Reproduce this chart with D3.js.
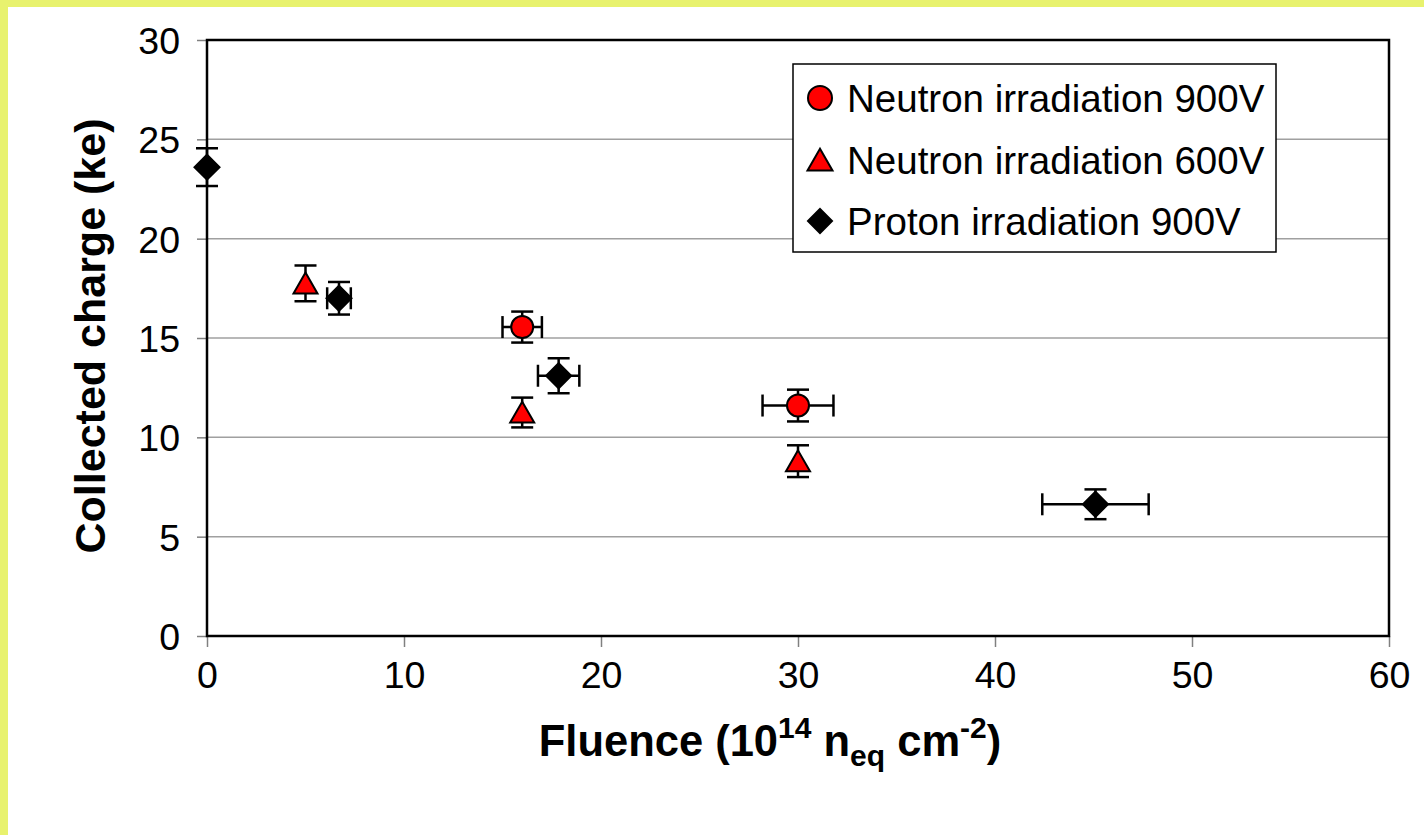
<!DOCTYPE html>
<html>
<head>
<meta charset="UTF-8">
<title>Collected charge vs fluence</title>
<script src="https://cdn.jsdelivr.net/npm/d3@7"></script>
<style>
  body { margin: 0; background: #fff; }
  svg { display: block; font-family: "Liberation Sans", Arial, sans-serif; }
</style>
</head>
<body>
<script>
// data
var xTicks = [0, 10, 20, 30, 40, 50, 60];
var yTicks = [0, 5, 10, 15, 20, 25, 30];

var n900X = [16, 30];
var n900Y = [15.55, 11.6];
var n900Xerr = [1.0, 1.8];
var n900Yerr = [0.78, 0.8];

var n600X = [5, 16, 30];
var n600Y = [17.75, 11.25, 8.8];
var n600Xerr = [0, 0, 0];
var n600Yerr = [0.9, 0.75, 0.8];

var pX = [0, 6.7, 17.85, 45.1];
var pY = [23.6, 17.0, 13.1, 6.63];
var pXerr = [0, 0.6, 1.05, 2.7];
var pYerr = [0.95, 0.82, 0.88, 0.75];

var legendNames = ["Neutron irradiation 900V", "Neutron irradiation 600V", "Proton irradiation 900V"];

var W = 1424, H = 835;
var m = {left: 207, top: 40, right: 1389, bottom: 636};

var svg = d3.select("body").append("svg")
    .attr("width", W).attr("height", H);

// yellow border strips
svg.append("rect").attr("x", 0).attr("y", 0).attr("width", W).attr("height", 7).attr("fill", "#e8f26e");
svg.append("rect").attr("x", 0).attr("y", 0).attr("width", 8).attr("height", H).attr("fill", "#e8f26e");

var x = d3.scaleLinear().domain([0, 60]).range([m.left, m.right]);
var y = d3.scaleLinear().domain([0, 30]).range([m.bottom, m.top]);

// gridlines
svg.append("g").selectAll("line")
    .data(yTicks.filter(function(d){ return d > 0 && d < 30; }))
    .enter().append("line")
    .attr("x1", m.left).attr("x2", m.right)
    .attr("y1", function(d){ return y(d); })
    .attr("y2", function(d){ return y(d); })
    .attr("stroke", "#a0a0a0").attr("stroke-width", 1.5);

// axes
var yAxis = svg.append("g")
    .attr("transform", "translate(" + m.left + ",0)")
    .call(d3.axisLeft(y).tickValues(yTicks).tickSize(10).tickPadding(17).tickFormat(d3.format("d")));
var xAxis = svg.append("g")
    .attr("transform", "translate(0," + m.bottom + ")")
    .call(d3.axisBottom(x).tickValues(xTicks).tickSize(11).tickPadding(30).tickFormat(d3.format("d")));

[xAxis, yAxis].forEach(function(a){
  a.select(".domain").remove();
  a.selectAll(".tick line").attr("stroke", "#808080").attr("stroke-width", 1.5);
  a.selectAll(".tick text").attr("font-size", 37.5).attr("fill", "#000")
    .attr("font-family", "'Liberation Sans', Arial, sans-serif");
});
yAxis.selectAll(".tick text").attr("dy", "0.36em");
xAxis.selectAll(".tick text").attr("dy", "0.3em");

// frame
svg.append("rect")
    .attr("x", m.left).attr("y", m.top)
    .attr("width", m.right - m.left).attr("height", m.bottom - m.top)
    .attr("fill", "none").attr("stroke", "#000").attr("stroke-width", 2.5);

// axis titles
svg.append("text")
    .attr("transform", "translate(105,336) rotate(-90)")
    .attr("text-anchor", "middle")
    .attr("font-size", 43).attr("font-weight", "bold")
    .text("Collected charge (ke)");

var xt = svg.append("text")
    .attr("x", 770).attr("y", 756)
    .attr("text-anchor", "middle")
    .attr("font-size", 43.5).attr("font-weight", "bold");
xt.append("tspan").text("Fluence (10");
xt.append("tspan").attr("dy", -18).attr("font-size", 30).text("14");
xt.append("tspan").attr("dy", 18).text(" n");
xt.append("tspan").attr("dy", 10).attr("font-size", 30).text("eq");
xt.append("tspan").attr("dy", -10).text(" cm");
xt.append("tspan").attr("dy", -18).attr("font-size", 30).text("-2");
xt.append("tspan").attr("dy", 18).text(")");

// marker shapes
function markerPath(kind, s) {
  if (kind === "circle") {
    var p = d3.path(); p.arc(0, 0, s / 2, 0, 2 * Math.PI); return p.toString();
  }
  if (kind === "triangle") {
    return "M0," + (-s * 0.45) + "L" + (s / 2) + "," + (s * 0.42) + "L" + (-s / 2) + "," + (s * 0.42) + "Z";
  }
  return "M0," + (-s / 2) + "L" + (s / 2) + ",0L0," + (s / 2) + "L" + (-s / 2) + ",0Z";
}

var series = [
  {xs: n900X, ys: n900Y, xe: n900Xerr, ye: n900Yerr, kind: "circle", fill: "#ff0000", size: 22},
  {xs: n600X, ys: n600Y, xe: n600Xerr, ye: n600Yerr, kind: "triangle", fill: "#ff0000", size: 24},
  {xs: pX, ys: pY, xe: pXerr, ye: pYerr, kind: "diamond", fill: "#000", size: 25}
];

var cap = 11;
series.forEach(function(s){
  var pts = s.xs.map(function(v, i){ return {x: v, y: s.ys[i], xe: s.xe[i], ye: s.ye[i]}; });
  var g = svg.append("g");
  var eb = g.append("g").attr("stroke", "#000").attr("stroke-width", 2.5);
  pts.forEach(function(d){
    var cx = x(d.x), cy = y(d.y);
    if (d.ye > 0) {
      var y1 = y(d.y + d.ye), y2 = y(d.y - d.ye);
      eb.append("line").attr("x1", cx).attr("x2", cx).attr("y1", y1).attr("y2", y2);
      eb.append("line").attr("x1", cx - cap).attr("x2", cx + cap).attr("y1", y1).attr("y2", y1);
      eb.append("line").attr("x1", cx - cap).attr("x2", cx + cap).attr("y1", y2).attr("y2", y2);
    }
    if (d.xe > 0) {
      var x1 = x(d.x - d.xe), x2 = x(d.x + d.xe);
      eb.append("line").attr("x1", x1).attr("x2", x2).attr("y1", cy).attr("y2", cy);
      eb.append("line").attr("x1", x1).attr("x2", x1).attr("y1", cy - cap).attr("y2", cy + cap);
      eb.append("line").attr("x1", x2).attr("x2", x2).attr("y1", cy - cap).attr("y2", cy + cap);
    }
  });
  g.selectAll("path").data(pts).enter().append("path")
    .attr("d", markerPath(s.kind, s.size))
    .attr("transform", function(d){ return "translate(" + x(d.x) + "," + y(d.y) + ")"; })
    .attr("fill", s.fill).attr("stroke", "#000").attr("stroke-width", 2);
});

// legend
var lg = svg.append("g");
lg.append("rect").attr("x", 793).attr("y", 64).attr("width", 483).attr("height", 188)
  .attr("fill", "#fff").attr("stroke", "#000").attr("stroke-width", 1.5);
var rowY = [112, 174, 235];
var legSizes = [24, 25, 24];
legendNames.forEach(function(name, i){
  lg.append("path")
    .attr("d", markerPath(series[i].kind, legSizes[i]))
    .attr("transform", "translate(820," + (rowY[i] - 14) + ")")
    .attr("fill", series[i].fill).attr("stroke", "#000").attr("stroke-width", 2);
  lg.append("text").attr("x", 847).attr("y", rowY[i])
    .attr("font-size", 38.5).text(name);
});
</script>
</body>
</html>
